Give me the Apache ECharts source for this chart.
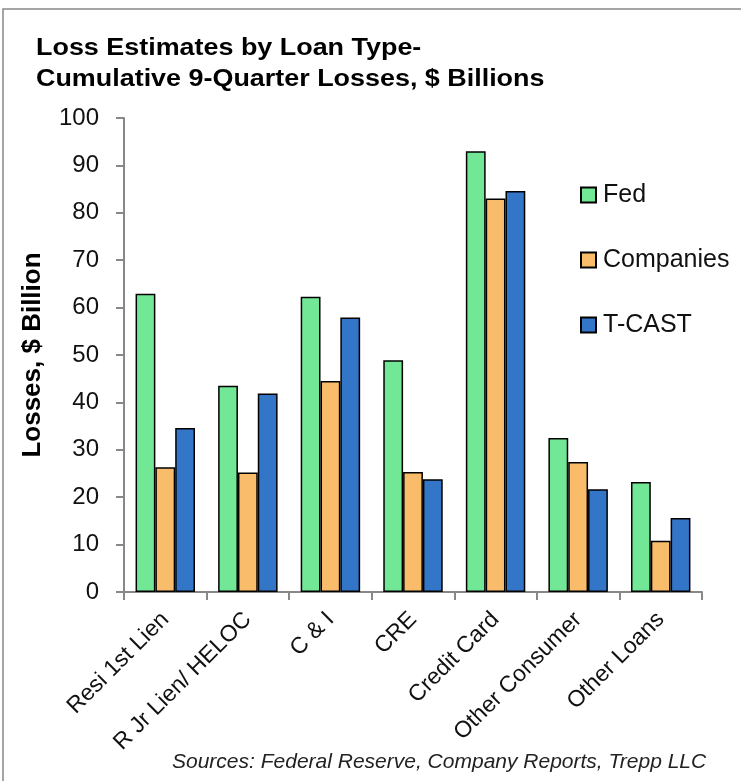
<!DOCTYPE html>
<html>
<head>
<meta charset="utf-8">
<script src="https://cdn.jsdelivr.net/npm/echarts@6/dist/echarts.min.js"></script>
<style>
  html, body { margin: 0; padding: 0; background: #fff; }
  #chart { width: 741px; height: 781px; }
</style>
</head>
<body>
<div id="chart"></div>
<script>
// loan types along the x axis
var categories = ['Resi 1st Lien', 'R Jr Lien/ HELOC', 'C & I', 'CRE', 'Credit Card', 'Other Consumer', 'Other Loans']
// cumulative 9-quarter losses, $ billions
var fedData = [62.9, 43.5, 62.3, 48.9, 93.0, 32.5, 23.2]
var companiesData = [26.3, 25.2, 44.5, 25.3, 83.0, 27.4, 10.8]
var tcastData = [34.6, 41.9, 57.9, 23.8, 84.6, 21.7, 15.6]

var chart = echarts.init(document.getElementById('chart'))
var font = 'Liberation Sans'

function barSeries(name, color, data) {
  return {
    name: name,
    type: 'bar',
    barGap: 0,
    barCategoryGap: '28%',
    itemStyle: {
      color: color,
      borderColor: '#000',
      borderWidth: 1.5
    },
    data: data
  }
}

chart.setOption({
  animation: false,
  backgroundColor: '#fff',
  graphic: [
    {
      type: 'rect',
      shape: { x: 3, y: 9, width: 800, height: 800 },
      style: { fill: 'none', stroke: '#888', lineWidth: 1.5 }
    },
    {
      // title font is a wide bold face, stretch it a bit
      type: 'text',
      x: 36,
      y: 33,
      scaleX: 1.17,
      style: {
        text: 'Loss Estimates by Loan Type-\nCumulative 9-Quarter Losses, $ Billions',
        font: 'bold 23px "Liberation Sans", sans-serif',
        lineHeight: 31,
        verticalAlign: 'top',
        fill: '#000'
      }
    },
    {
      type: 'text',
      left: 172,
      top: 752,
      style: {
        text: 'Sources: Federal Reserve, Company Reports, Trepp LLC',
        font: 'italic 21px "Liberation Sans", sans-serif',
        fill: '#222'
      }
    }
  ],
  legend: {
    orient: 'vertical',
    left: 575,
    top: 177,
    itemWidth: 15,
    itemHeight: 15,
    itemGap: 39,
    icon: 'rect',
    textStyle: { fontFamily: font, fontSize: 25, lineHeight: 26, color: '#111', padding: [0, 0, 0, 2] },
    data: ['Fed', 'Companies', 'T-CAST']
  },
  grid: {
    left: 124,
    right: 39,
    top: 118,
    bottom: 189
  },
  xAxis: {
    type: 'category',
    data: categories,
    axisLine: { lineStyle: { color: '#888', width: 2 } },
    axisTick: { show: true, length: 8, lineStyle: { color: '#888', width: 2 } },
    axisLabel: {
      rotate: 45,
      margin: 24,
      fontFamily: font,
      fontSize: 23,
      color: '#111'
    }
  },
  yAxis: {
    type: 'value',
    min: 0,
    max: 100,
    interval: 10,
    name: 'Losses, $ Billion',
    nameLocation: 'middle',
    nameGap: 78,
    nameTextStyle: { fontFamily: font, fontSize: 26, fontWeight: 'bold', color: '#000' },
    axisLine: { show: true, lineStyle: { color: '#888', width: 2 } },
    axisTick: { show: true, length: 8, lineStyle: { color: '#888', width: 2 } },
    axisLabel: { margin: 25, fontFamily: font, fontSize: 24, color: '#111' },
    splitLine: { show: false }
  },
  series: [
    barSeries('Fed', '#72e795', fedData),
    barSeries('Companies', '#f8bc6b', companiesData),
    barSeries('T-CAST', '#3375c7', tcastData)
  ]
})
</script>
</body>
</html>
